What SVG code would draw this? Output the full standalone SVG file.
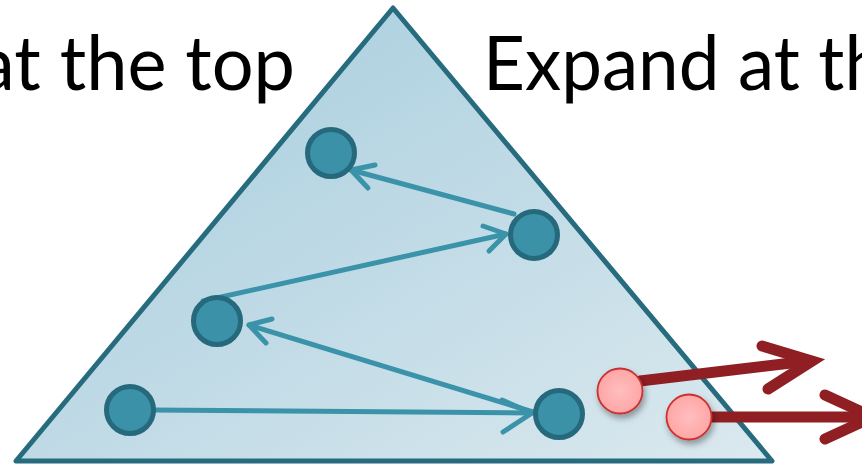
<svg xmlns="http://www.w3.org/2000/svg" width="862" height="464" viewBox="0 0 862 464">
  <defs>
    <linearGradient id="triFill" x1="0" y1="0" x2="1" y2="1">
      <stop offset="0" stop-color="#a3cbdc"/>
      <stop offset="1" stop-color="#dbe9ef"/>
    </linearGradient>
    <radialGradient id="redFill" cx="0.5" cy="0.5" r="0.5">
      <stop offset="0" stop-color="#ffbebe"/>
      <stop offset="1" stop-color="#ffa6a6"/>
    </radialGradient>
    <filter id="shadow" x="-50%" y="-50%" width="200%" height="200%">
      <feDropShadow dx="2" dy="4" stdDeviation="3" flood-color="#000" flood-opacity="0.35"/>
    </filter>
  </defs>
  <style>
    .title { font-family: "Lato", "Liberation Sans", sans-serif; font-size: 76px; fill: #000; }
    .tri { fill: url(#triFill); stroke: #276b7e; stroke-width: 5; stroke-linejoin: round; }
    .node { fill: #3a91a8; stroke: #26697c; stroke-width: 5; }
    .rnode { fill: url(#redFill); stroke: #c83030; stroke-width: 1.8; filter: url(#shadow); }
    .conn { fill: none; stroke: #3a93a9; stroke-width: 5; stroke-linecap: round; stroke-linejoin: round; }
    .rconn { fill: none; stroke: #8f1f22; stroke-width: 11; stroke-linecap: round; stroke-linejoin: miter; stroke-miterlimit: 10; }
  </style>

  <text class="title" x="-22" y="90" textLength="317" lengthAdjust="spacingAndGlyphs">at the top</text>
  <text class="title" x="483" y="90" textLength="402" lengthAdjust="spacingAndGlyphs">Expand at th</text>

  <g id="triangle">
    <polygon class="tri" points="393,8 772,461 16,461"/>
  </g>

  <g id="connectors">
    <!-- B -> A -->
    <path class="conn" d="M514,214 L351,170"/>
    <path class="conn" d="M375,165 L351,170 L368,188"/>
    <!-- C -> B -->
    <path class="conn" d="M203,301 L506,234"/>
    <path class="conn" d="M483,226 L506,234 L489,251"/>
    <!-- E -> C -->
    <path class="conn" d="M533,412 L249,325"/>
    <path class="conn" d="M272,319 L249,325 L266,343"/>
    <!-- D -> E -->
    <path class="conn" d="M153,410 L532,413"/>
    <path class="conn" d="M502,400 L532,413 L503,432"/>
    <!-- red arrows -->
    <path class="rconn" d="M640,381 L808,361"/>
    <path class="rconn" d="M762,346 L812,361 L768,389"/>
    <path class="rconn" d="M710,417 L868,417"/>
    <path class="rconn" d="M825,395 L873,417 L825,439"/>
  </g>

  <g id="nodeA"><circle class="node" cx="331" cy="153" r="23.5"/></g>
  <g id="nodeB"><circle class="node" cx="534" cy="235" r="23.5"/></g>
  <g id="nodeC"><circle class="node" cx="217" cy="321" r="23.5"/></g>
  <g id="nodeD"><circle class="node" cx="130" cy="410" r="23.5"/></g>
  <g id="nodeE"><circle class="node" cx="559" cy="414" r="23.5"/></g>
  <g id="nodeR1"><circle class="rnode" cx="620" cy="391" r="22.5"/></g>
  <g id="nodeR2"><circle class="rnode" cx="689" cy="417" r="22.5"/></g>
</svg>
